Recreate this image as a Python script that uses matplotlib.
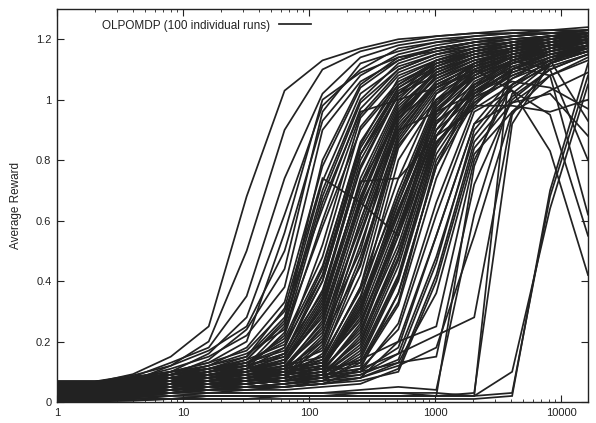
import numpy as np
import matplotlib
matplotlib.use("Agg")
import matplotlib.pyplot as plt
from matplotlib.ticker import LogLocator, NullFormatter, FixedLocator

plt.rcParams['font.family'] = ['Liberation Sans', 'DejaVu Sans']

# evaluation points (iterations)
steps = [1, 2, 4, 8, 16, 32, 64, 128, 256, 512, 1024, 2048, 4096, 8192, 16384]

# average reward of each of the 100 runs
runs = [
    [.064, .064, .092, .15, .25, .68, 1.03, 1.13, 1.17, 1.20, 1.21, 1.22, 1.23, 1.23, 1.24],
    [.043, .043, .071, .12, .20, .50, .90, 1.10, 1.16, 1.19, 1.21, 1.22, 1.22, 1.23, 1.23],
    [.052, .052, .083, .13, .18, .35, .74, 1.02, 1.14, 1.18, 1.20, 1.21, 1.22, 1.22, 1.23],
    [.031, .031, .058, .10, .16, .28, .62, .98, 1.10, 1.17, 1.19, 1.21, 1.22, 1.22, 1.23],
    [.068, .068, .088, .12, .17, .25, .50, .93, 1.08, 1.15, 1.18, 1.20, 1.21, 1.22, 1.22],
    [.022, .022, .047, .09, .14, .24, .44, .96, 1.12, 1.16, 1.19, 1.20, 1.21, 1.22, 1.22],
    [.058, .058, .077, .11, .15, .22, .38, .90, 1.06, 1.13, 1.17, 1.19, 1.20, 1.21, 1.21],
    [.037, .037, .062, .10, .13, .20, .56, 1.00, 1.09, 1.14, 1.16, 1.18, 1.20, 1.21, 1.22],
    [.047, .047, .068, .09, .12, .18, .33, .78, 1.04, 1.13, 1.17, 1.19, 1.21, 1.22, 1.23],
    [.027, .027, .051, .08, .10, .14, .26, .70, 1.00, 1.12, 1.16, 1.19, 1.20, 1.21, 1.22],
    [.061, .061, .079, .10, .13, .17, .30, .64, .97, 1.10, 1.15, 1.18, 1.20, 1.21, 1.22],
    [.012, .012, .034, .06, .09, .12, .22, .60, .95, 1.09, 1.14, 1.17, 1.19, 1.20, 1.21],
    [.041, .041, .063, .08, .11, .15, .28, .73, 1.02, 1.11, 1.15, 1.18, 1.19, 1.21, 1.22],
    [.019, .019, .042, .07, .10, .13, .20, .45, .85, 1.07, 1.13, 1.16, 1.18, 1.20, 1.21],
    [.066, .066, .081, .10, .12, .16, .24, .58, .90, 1.05, 1.12, 1.16, 1.18, 1.19, 1.20],
    [.049, .049, .064, .09, .11, .14, .19, .42, .84, 1.04, 1.11, 1.15, 1.17, 1.19, 1.20],
    [.033, .033, .053, .07, .10, .12, .25, .68, .99, 1.10, 1.15, 1.17, 1.19, 1.20, 1.22],
    [.016, .016, .038, .06, .08, .11, .18, .52, .94, 1.08, 1.13, 1.16, 1.18, 1.19, 1.21],
    [.056, .056, .073, .09, .12, .15, .31, .74, .66, .55, .98, 1.12, 1.16, 1.18, 1.19],
    [.039, .039, .057, .08, .10, .13, .21, .48, .91, 1.06, 1.12, 1.15, 1.17, 1.18, 1.19],
    [.008, .008, .027, .05, .07, .10, .16, .40, .82, 1.03, 1.10, 1.14, 1.16, 1.18, 1.19],
    [.053, .053, .072, .09, .11, .14, .27, .80, 1.05, 1.14, 1.17, 1.19, 1.21, 1.22, 1.23],
    [.029, .029, .046, .06, .09, .11, .23, .66, .96, 1.00, 1.04, 1.12, 1.17, 1.19, 1.21],
    [.063, .063, .084, .10, .11, .13, .17, .36, .80, 1.02, 1.08, 1.13, 1.16, 1.18, 1.20],
    [.021, .021, .039, .06, .08, .10, .13, .30, .74, 1.00, 1.12, 1.16, 1.19, 1.20, 1.22],
    [.046, .046, .061, .08, .09, .11, .15, .35, .78, 1.02, 1.13, 1.17, 1.19, 1.21, 1.22],
    [.036, .036, .052, .07, .08, .09, .12, .26, .66, .96, 1.10, 1.15, 1.18, 1.20, 1.21],
    [.011, .011, .028, .04, .05, .07, .10, .22, .60, .93, 1.08, 1.14, 1.17, 1.19, 1.20],
    [.059, .059, .074, .08, .10, .12, .16, .40, .82, 1.04, 1.12, 1.16, 1.18, 1.20, 1.22],
    [.026, .026, .043, .05, .07, .08, .11, .20, .55, .90, 1.06, 1.12, 1.16, 1.18, 1.20],
    [.069, .069, .076, .09, .10, .11, .14, .28, .68, .97, 1.09, 1.14, 1.17, 1.19, 1.21],
    [.017, .017, .033, .05, .06, .08, .09, .18, .52, .88, 1.05, 1.11, 1.15, 1.17, 1.19],
    [.044, .044, .066, .07, .09, .10, .13, .33, .72, .99, 1.11, 1.16, 1.19, 1.21, 1.23],
    [.051, .051, .059, .07, .08, .09, .12, .24, .63, .95, 1.07, 1.13, 1.16, 1.18, 1.20],
    [.006, .006, .024, .04, .06, .07, .08, .16, .42, .86, 1.03, 1.10, 1.14, 1.17, 1.19],
    [.062, .062, .078, .09, .11, .13, .18, .44, .86, 1.05, 1.13, 1.17, 1.19, 1.21, 1.22],
    [.028, .028, .049, .06, .07, .09, .11, .25, .58, .92, 1.06, 1.12, 1.15, 1.18, 1.20],
    [.014, .014, .031, .05, .06, .07, .09, .14, .38, .84, 1.02, 1.09, 1.14, 1.17, 1.19],
    [.048, .048, .060, .08, .09, .10, .14, .31, .70, .98, 1.09, 1.14, 1.17, 1.19, 1.21],
    [.034, .034, .050, .06, .08, .09, .12, .23, .50, .94, 1.08, 1.13, 1.16, 1.19, 1.20],
    [.067, .067, .082, .09, .10, .12, .15, .37, .77, 1.02, 1.11, 1.15, 1.18, 1.20, 1.22],
    [.003, .003, .019, .03, .05, .06, .08, .19, .56, .91, 1.05, 1.11, 1.15, 1.17, 1.19],
    [.024, .024, .040, .06, .07, .09, .10, .21, .45, .87, 1.04, 1.10, 1.14, 1.16, 1.18],
    [.057, .057, .069, .08, .09, .11, .13, .29, .67, .96, 1.07, 1.12, 1.16, 1.18, 1.20],
    [.018, .018, .037, .05, .07, .08, .11, .27, .65, .90, .96, 1.02, 1.10, 1.15, 1.18],
    [.045, .045, .056, .07, .09, .10, .12, .17, .48, .85, 1.00, 1.08, 1.13, 1.16, 1.18],
    [.038, .038, .054, .07, .08, .10, .14, .34, .72, .94, 1.04, 1.09, 1.12, 1.15, 1.17],
    [.009, .009, .023, .04, .05, .06, .07, .12, .34, .80, 1.00, 1.07, 1.12, 1.15, 1.17],
    [.060, .060, .080, .09, .11, .12, .16, .42, .82, 1.01, 1.10, 1.14, 1.17, 1.19, 1.21],
    [.030, .030, .044, .05, .06, .08, .10, .15, .46, .89, 1.05, 1.11, 1.14, 1.17, 1.19],
    [.050, .050, .065, .08, .09, .11, .13, .32, .73, .74, .88, 1.05, 1.13, 1.17, 1.20],
    [.015, .015, .029, .04, .06, .07, .09, .20, .60, .95, 1.09, 1.14, 1.17, 1.19, 1.21],
    [.040, .040, .055, .06, .07, .08, .09, .11, .30, .62, .96, 1.10, 1.16, 1.19, 1.21],
    [.055, .055, .070, .08, .08, .09, .11, .13, .35, .70, 1.00, 1.11, 1.17, 1.19, 1.22],
    [.020, .020, .035, .04, .05, .06, .07, .09, .22, .55, .92, 1.08, 1.14, 1.18, 1.20],
    [.032, .032, .045, .05, .06, .07, .08, .10, .20, .48, .88, 1.05, 1.13, 1.16, 1.19],
    [.054, .054, .063, .07, .07, .08, .10, .12, .33, .66, .98, 1.09, 1.15, 1.18, 1.20],
    [.010, .010, .021, .03, .04, .05, .06, .08, .16, .42, .85, 1.03, 1.11, 1.15, 1.18],
    [.065, .065, .071, .08, .09, .10, .11, .14, .38, .74, 1.02, 1.12, 1.17, 1.20, 1.22],
    [.042, .042, .053, .05, .06, .07, .08, .10, .26, .58, .94, 1.07, 1.13, 1.17, 1.19],
    [.023, .023, .032, .04, .05, .05, .06, .07, .14, .40, .82, 1.01, 1.10, 1.15, 1.18],
    [.058, .058, .066, .07, .08, .09, .10, .12, .28, .60, .96, 1.09, 1.15, 1.18, 1.21],
    [.027, .027, .041, .05, .06, .06, .07, .09, .18, .47, .88, 1.04, 1.12, 1.16, 1.19],
    [.047, .047, .058, .07, .07, .08, .09, .11, .31, .64, .93, 1.02, 1.08, 1.13, 1.17],
    [.002, .002, .015, .03, .04, .04, .05, .06, .11, .36, .78, .99, 1.09, 1.14, 1.17],
    [.035, .035, .048, .06, .07, .08, .09, .11, .24, .52, .90, 1.06, 1.12, 1.16, 1.18],
    [.063, .063, .075, .08, .09, .10, .12, .15, .37, .68, .97, 1.08, 1.14, 1.17, 1.20],
    [.013, .013, .026, .04, .04, .05, .06, .08, .15, .41, .84, 1.02, 1.10, 1.14, 1.16],
    [.052, .052, .062, .06, .07, .08, .10, .13, .27, .55, .88, .97, 1.05, 1.11, 1.15],
    [.025, .025, .036, .05, .05, .06, .07, .09, .21, .50, .86, .99, 1.07, 1.12, 1.16],
    [.060, .060, .067, .07, .08, .09, .10, .12, .32, .63, .95, 1.05, 1.10, 1.14, 1.18],
    [.007, .007, .018, .03, .04, .05, .05, .07, .13, .33, .80, 1.00, 1.08, 1.13, 1.16],
    [.039, .039, .050, .06, .06, .07, .08, .10, .25, .58, .92, 1.03, 1.09, 1.13, .93],
    [.056, .056, .068, .08, .09, .10, .11, .13, .29, .66, .96, 1.07, 1.13, 1.10, .80],
    [.016, .016, .030, .04, .05, .06, .07, .09, .19, .50, .88, 1.04, 1.11, 1.08, .62],
    [.044, .044, .052, .06, .07, .08, .09, .11, .23, .57, .90, 1.01, 1.06, 1.04, .97],
    [.029, .029, .039, .04, .05, .06, .07, .08, .17, .45, .86, .98, .98, .96, 1.00],
    [.066, .066, .070, .08, .09, .09, .10, .12, .31, .68, .99, 1.10, 1.03, .83, .42],
    [.037, .037, .046, .05, .06, .06, .07, .08, .10, .26, .66, .98, 1.10, 1.16, 1.19],
    [.019, .019, .028, .03, .04, .05, .05, .06, .08, .20, .55, .92, 1.07, 1.14, 1.18],
    [.061, .061, .064, .07, .07, .08, .09, .10, .12, .32, .74, 1.02, 1.12, 1.17, 1.20],
    [.026, .026, .033, .04, .05, .05, .06, .07, .09, .16, .48, .88, 1.04, 1.12, 1.16],
    [.049, .049, .055, .06, .07, .07, .08, .09, .11, .24, .62, .96, 1.03, .95, .55],
    [.005, .005, .016, .02, .03, .04, .04, .05, .06, .11, .42, .86, 1.01, 1.10, 1.15],
    [.041, .041, .048, .05, .06, .06, .07, .08, .09, .14, .46, .90, 1.05, 1.13, 1.17],
    [.068, .068, .073, .08, .08, .09, .10, .11, .13, .36, .78, 1.04, 1.13, 1.17, 1.20],
    [.014, .014, .022, .03, .04, .04, .05, .06, .07, .10, .40, .84, .99, 1.08, 1.13],
    [.053, .053, .057, .06, .06, .07, .08, .09, .10, .18, .55, .92, .99, 1.02, .88],
    [.031, .031, .037, .04, .05, .05, .06, .07, .08, .13, .36, .82, .96, 1.03, 1.09],
    [.004, .004, .009, .02, .02, .02, .02, .02, .03, .03, .02, .78, 1.10, 1.16, 1.19],
    [.017, .017, .020, .02, .03, .03, .03, .03, .04, .05, .04, .62, 1.02, 1.12, 1.16],
    [.009, .009, .012, .01, .02, .02, .02, .02, .02, .02, .02, .02, 1.18, 1.21, 1.22],
    [.001, .001, .006, .01, .01, .01, .02, .02, .02, .02, .02, .03, .92, 1.12, 1.18],
    [.021, .021, .025, .03, .03, .03, .03, .03, .03, .03, .03, .02, .10, .64, 1.05],
    [.012, .012, .014, .01, .02, .02, .02, .02, .02, .02, .02, .02, .03, .68, 1.08],
    [.003, .003, .004, .01, .01, .01, .01, .01, .01, .01, .01, .01, .02, .70, 1.12],
    [.033, .033, .040, .04, .05, .06, .07, .08, .10, .13, .15, .72, 1.00, 1.10, 1.15],
    [.050, .050, .056, .06, .06, .07, .08, .10, .14, .20, .25, .80, 1.05, 1.13, 1.18],
    [.022, .022, .030, .03, .04, .05, .05, .06, .08, .12, .18, .55, .96, 1.08, 1.14],
    [.036, .036, .045, .05, .06, .07, .07, .09, .11, .16, .22, .28, .95, 1.12, 1.18],
]

legend_label = "OLPOMDP (100 individual runs)"
y_ticks = [0, 0.2, 0.4, 0.6, 0.8, 1, 1.2]
y_ticklabels = ["0", "0.2", "0.4", "0.6", "0.8", "1", "1.2"]
x_ticks = [1, 10, 100, 1000, 10000]
x_ticklabels = ["1", "10", "100", "1000", "10000"]

fig = plt.figure(figsize=(5.96, 4.23), dpi=100)
ax = fig.add_axes([57 / 596, 1 - 402 / 423, 531 / 596, 393 / 423])

for i, r in enumerate(runs):
    ax.plot(steps, r, color="#222222", lw=1.25, solid_joinstyle="miter",
            label=legend_label if i == 0 else None)

ax.set_xscale("log")
ax.set_xlim(1, 16384)
ax.set_ylim(0, 1.3)

ax.xaxis.set_major_locator(FixedLocator(x_ticks))
ax.set_xticklabels(x_ticklabels)
ax.xaxis.set_minor_locator(LogLocator(base=10, subs=np.arange(2, 10)))
ax.xaxis.set_minor_formatter(NullFormatter())
ax.set_yticks(y_ticks)
ax.set_yticklabels(y_ticklabels)

ax.tick_params(which="both", direction="in", top=True, right=True,
               labelsize=8, colors="#222222", pad=4)
ax.tick_params(which="major", length=5, width=0.8)
ax.tick_params(which="minor", length=2.5, width=0.6)
for s in ax.spines.values():
    s.set_linewidth(1.0)
    s.set_color("#222222")

ax.set_ylabel("Average Reward", fontsize=8.5, color="#222222", labelpad=10)

leg = ax.legend(loc="upper left", bbox_to_anchor=(0.067, 0.997), frameon=False,
                markerfirst=False, fontsize=8.5, handlelength=2.7,
                handletextpad=0.75, borderpad=0.3)
for t in leg.get_texts():
    t.set_color("#222222")

fig.savefig("out.png", dpi=100)
